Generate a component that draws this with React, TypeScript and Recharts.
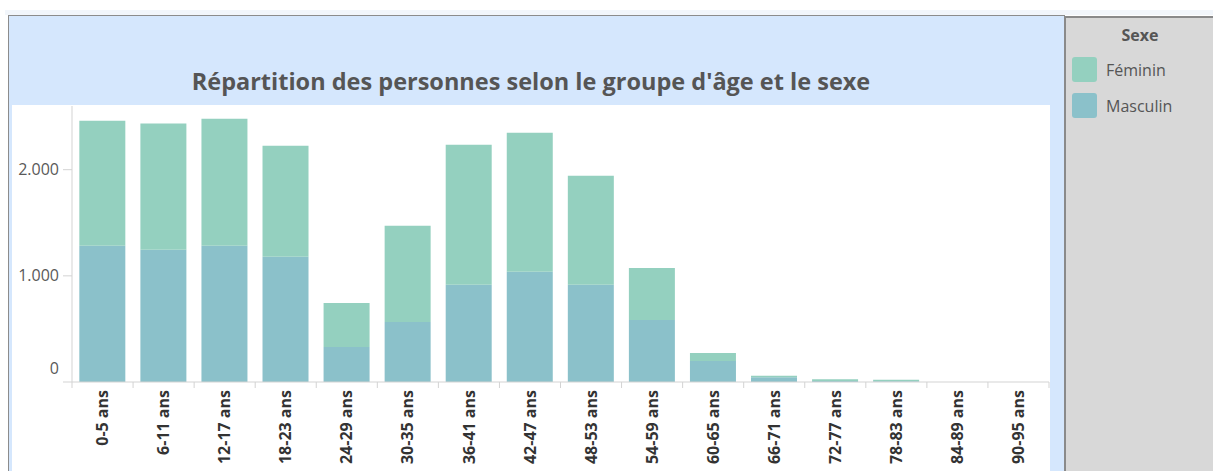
import React from 'react';
import { BarChart, Bar, XAxis, YAxis } from 'recharts';

// groupes d'âge (axe X)
const categories = [
  '0-5 ans', '6-11 ans', '12-17 ans', '18-23 ans', '24-29 ans', '30-35 ans',
  '36-41 ans', '42-47 ans', '48-53 ans', '54-59 ans', '60-65 ans', '66-71 ans',
  '72-77 ans', '78-83 ans', '84-89 ans', '90-95 ans',
];
const masculin = [1283, 1245, 1283, 1179, 330, 566, 915, 1038, 915, 585, 198, 45, 10, 8, 0, 0];
const feminin = [1179, 1189, 1198, 1047, 415, 906, 1321, 1311, 1028, 490, 76, 15, 15, 13, 0, 0];
const yTicks = [0, 1000, 2000];

const series = [
  { key: 'masculin', name: 'Masculin', color: '#8bc1ca' },
  { key: 'feminin', name: 'Féminin', color: '#94d0bf' },
];

const data = categories.map((c, i) => ({ groupe: c, masculin: masculin[i], feminin: feminin[i] }));

const FONT = '"Open Sans", "Noto Sans", sans-serif';
const AXIS = '#d3d3d3';

const fmt = (n: number) => String(n).replace(/\B(?=(\d{3})+(?!\d))/g, '.');

const YTick = (props: any) => {
  const { x, y, payload } = props;
  const shift = payload.value === 0 ? -14 : 0;
  return (
    <text x={x} y={y + shift} dy="0.35em" textAnchor="end" fill="#595959"
      fontSize={16} fontFamily={FONT}>
      {fmt(payload.value)}
    </text>
  );
};

const XTick = (props: any) => {
  const { x, y, payload, index } = props;
  const half = typeof payload.offset === 'number' && payload.offset > 0 ? payload.offset : 30.5;
  return (
    <g>
      <line x1={x - half} x2={x - half} y1={y} y2={y + 6} stroke={AXIS} />
      {index === categories.length - 1 && (
        <line x1={x + half} x2={x + half} y1={y} y2={y + 6} stroke={AXIS} />
      )}
      <text transform={`translate(${x},${y + 8}) rotate(-90)`} dy="0.35em" textAnchor="end"
        fill="#333" fontSize={16} fontWeight="bold" fontFamily={FONT}>
        {payload.value}
      </text>
    </g>
  );
};

const App: React.FC = () => {
  return (
    <div style={{ position: 'absolute', left: 0, top: 0, width: 1213, height: 471, overflow: 'hidden', background: '#fff', fontFamily: FONT }}>
      <div style={{ position: 'absolute', left: 5, top: 10, width: 1208, height: 5, background: '#f2f6fb' }} />
      <div style={{ position: 'absolute', left: 8, top: 15, width: 1056, height: 456, background: '#d5e7fd', borderTop: '1px solid #8c8c8c', borderLeft: '1px solid #8c8c8c' }} />
      <div style={{ position: 'absolute', left: 12, top: 105, width: 1038, height: 366, background: '#fff' }} />
      <div style={{ position: 'absolute', left: 12, top: 65, width: 1038, textAlign: 'center', fontSize: 23.5, fontWeight: 'bold', color: '#555', lineHeight: 'normal' }}>
        Répartition des personnes selon le groupe d'âge et le sexe
      </div>

      <div style={{ position: 'absolute', left: 1064, top: 16, width: 160, height: 460, background: '#d8d8d8', borderTop: '2px solid #8a8a8a', borderLeft: '2px solid #8a8a8a' }}>
        <div style={{ width: 148, textAlign: 'center', fontWeight: 'bold', fontSize: 16, color: '#555', marginTop: 6 }}>Sexe</div>
        {[...series].reverse().map((s, i) => (
          <div key={s.key} style={{ position: 'absolute', left: 6, top: 39 + i * 36, display: 'flex', alignItems: 'center' }}>
            <div style={{ width: 25, height: 25, borderRadius: 3, background: s.color }} />
            <span style={{ marginLeft: 9, fontSize: 16, color: '#555' }}>{s.name}</span>
          </div>
        ))}
      </div>

      <div style={{ position: 'absolute', left: 0, top: 0 }}>
        <BarChart width={1213} height={471} data={data} barCategoryGap="12%"
          margin={{ top: 106, right: 164, bottom: 0, left: 12 }}>
          <XAxis dataKey="groupe" xAxisId="bottom" height={89} interval={0}
            tickLine={false} tickSize={0} tickMargin={0} axisLine={{ stroke: AXIS }} tick={<XTick />} />
          <XAxis dataKey="groupe" xAxisId="top" orientation="top" height={0}
            tick={false} tickLine={false} axisLine={{ stroke: AXIS }} />
          <YAxis yAxisId="left" width={60} domain={[0, 2600]} ticks={yTicks} tickSize={9} tickMargin={4}
            tickLine={{ stroke: AXIS }} axisLine={{ stroke: AXIS }} tick={<YTick />} />
          <YAxis yAxisId="right" orientation="right" width={0} domain={[0, 2600]}
            tick={false} tickLine={false} axisLine={{ stroke: AXIS }} />
          {series.map((s) => (
            <Bar key={s.key} dataKey={s.key} name={s.name} stackId="a" fill={s.color}
              xAxisId="bottom" yAxisId="left" isAnimationActive={false} />
          ))}
        </BarChart>
      </div>
    </div>
  );
};

export default App;
